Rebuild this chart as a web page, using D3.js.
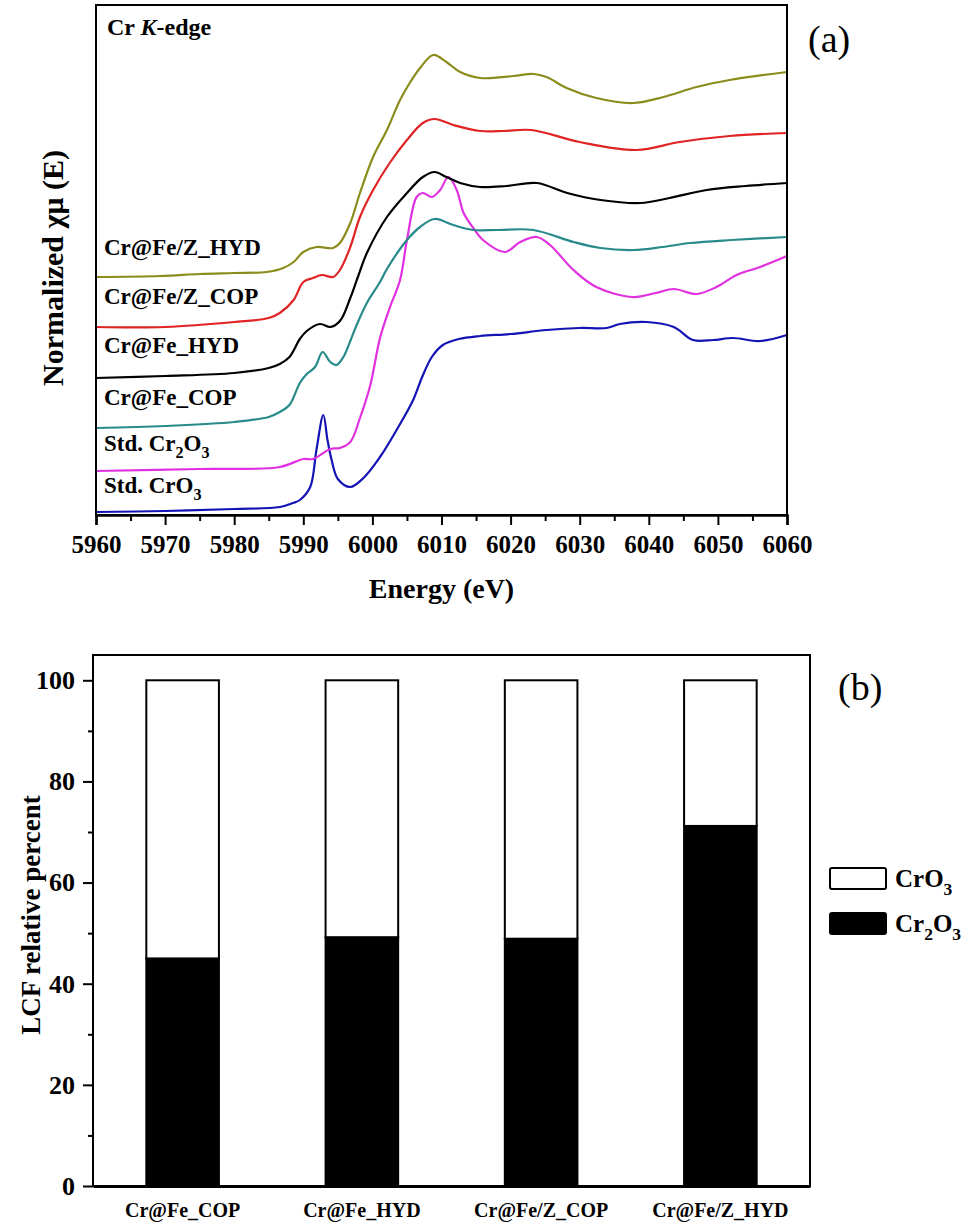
<!DOCTYPE html>
<html>
<head>
<meta charset="utf-8">
<script src="https://cdn.jsdelivr.net/npm/d3@7/dist/d3.min.js"></script>
<style>
body { margin: 0; background: #fff; }
text { font-family: "Liberation Serif", "Times New Roman", serif; font-weight: bold; fill: #000; }
</style>
</head>
<body>
<script>
// ---- panel (a): XANES spectra, energy (eV) vs normalized mu + offset ----
var energyTicks = [5960, 5970, 5980, 5990, 6000, 6010, 6020, 6030, 6040, 6050, 6060];

var stdCrO3 = [[5960,0.03],[5970,0.04],[5980,0.06],[5986.6,0.08],[5988.5,0.12],[5989.5,0.15],[5991,0.28],
    [5991.9,0.65],[5992.9,1.00],[5993.5,0.75],[5994.1,0.55],[5995,0.36],[5996.8,0.28],[5998.7,0.37],
    [6001.1,0.58],[6003.5,0.85],[6005.9,1.15],[6007.2,1.38],[6008.6,1.58],[6010.2,1.70],[6012.5,1.76],
    [6015.6,1.79],[6020,1.81],[6025.2,1.85],[6030,1.87],[6033.9,1.87],[6035.8,1.91],[6039.7,1.93],
    [6043.6,1.88],[6046.4,1.75],[6049.3,1.75],[6052.2,1.77],[6056.1,1.74],[6060,1.80]];

var stdCr2O3 = [[5960,0.44],[5975,0.46],[5986.6,0.48],[5990,0.56],[5991.4,0.56],[5993.9,0.66],
    [5995.3,0.67],[5996.8,0.73],[5998.2,0.97],[5999.7,1.30],[6001.1,1.77],[6002.5,2.07],[6004,2.35],
    [6005,2.75],[6006.4,3.18],[6007.3,3.22],[6008.6,3.18],[6009.8,3.25],[6011,3.38],[6012.2,3.25],
    [6013.2,3.02],[6014.6,2.87],[6016,2.75],[6019.2,2.63],[6021.4,2.73],[6023.8,2.78],[6025.7,2.70],
    [6029.1,2.45],[6032.4,2.28],[6037.7,2.18],[6041,2.22],[6043.6,2.26],[6046.9,2.21],[6049.8,2.28],
    [6052.7,2.40],[6056.1,2.48],[6060,2.59]];

var crFeCOP = [[5960,0.87],[5970,0.89],[5980,0.93],[5985,0.98],[5986.6,1.03],[5988,1.10],[5989.5,1.32],
    [5990.5,1.41],[5991.7,1.48],[5992.8,1.63],[5993.9,1.53],[5994.8,1.50],[5995.8,1.58],[5996.8,1.74],
    [5997.6,1.88],[5999.2,2.12],[6001.1,2.33],[6002.1,2.46],[6005,2.75],[6006.9,2.88],[6009,2.96],
    [6011.7,2.90],[6014.6,2.85],[6018,2.85],[6023.3,2.85],[6029.1,2.73],[6033,2.67],[6037.8,2.65],
    [6042,2.68],[6046,2.72],[6052,2.75],[6060,2.78]];

var crFeHYD = [[5960,1.37],[5970,1.39],[5980,1.42],[5985,1.47],[5986.6,1.51],[5988,1.58],[5989.5,1.76],
    [5990.5,1.84],[5992.4,1.91],[5993.9,1.88],[5995.3,1.94],[5996.8,2.17],[5998,2.40],[5999.2,2.62],
    [6002.1,2.98],[6005,3.22],[6007.3,3.38],[6009,3.43],[6010.7,3.38],[6012.7,3.32],[6015.6,3.28],
    [6019.4,3.29],[6023.8,3.32],[6028.2,3.22],[6033,3.15],[6038.8,3.12],[6043,3.17],[6048.4,3.25],
    [6054,3.29],[6060,3.32]];

var crFeZCOP = [[5960,1.88],[5970,1.88],[5980,1.93],[5985,1.97],[5986.6,2.02],[5988.6,2.15],[5990,2.33],
    [5991.4,2.37],[5992.7,2.40],[5994.3,2.38],[5995.3,2.45],[5996.8,2.68],[5998.2,2.98],[6000.1,3.25],
    [6002.5,3.52],[6005,3.75],[6007.3,3.92],[6009,3.96],[6011.7,3.90],[6015.6,3.84],[6019,3.84],
    [6023,3.85],[6030,3.73],[6038.2,3.65],[6044.5,3.73],[6051.7,3.79],[6060,3.82]];

var crFeZHYD = [[5960,2.38],[5969.3,2.39],[5975,2.41],[5979.9,2.42],[5984.7,2.43],[5987.1,2.47],
    [5988.6,2.53],[5990,2.63],[5991.9,2.68],[5994.3,2.67],[5995.3,2.72],[5996.8,2.92],[5998.2,3.22],
    [6000.1,3.58],[6002.1,3.85],[6004,4.15],[6005.4,4.32],[6006.9,4.47],[6008.8,4.60],[6010.7,4.53],
    [6012.7,4.43],[6015.6,4.37],[6020.4,4.39],[6023.3,4.41],[6025.2,4.38],[6028.1,4.27],[6032.4,4.17],
    [6037.7,4.12],[6042.1,4.18],[6046.9,4.28],[6051.7,4.35],[6060,4.43]];

var spectraNames = ["Std. CrO3", "Std. Cr2O3", "Cr@Fe_COP", "Cr@Fe_HYD", "Cr@Fe/Z_COP", "Cr@Fe/Z_HYD"];
var spectraData = [stdCrO3, stdCr2O3, crFeCOP, crFeHYD, crFeZCOP, crFeZHYD];

// ---- panel (b): linear combination fit ----
var samples = ["Cr@Fe_COP", "Cr@Fe_HYD", "Cr@Fe/Z_COP", "Cr@Fe/Z_HYD"];
var cr2o3Percent = [45.0, 49.2, 48.9, 71.2];
var cro3Percent = [55.0, 50.8, 51.1, 28.8];
var percentTicks = [0, 20, 40, 60, 80, 100];

// chem text: digits after a letter become subscripts
function chemText(sel, str, size){
    var shifted = false;
    str.split(/(?<=[A-Za-z])(\d+)/).forEach(function(p, i){
        if (p === "") return;
        if (i % 2 === 1){
            sel.append("tspan").attr("dy", size * 0.32).style("font-size", (size * 0.7) + "px").text(p);
            shifted = true;
        } else {
            sel.append("tspan").attr("dy", shifted ? -size * 0.32 : 0).text(p);
            shifted = false;
        }
    });
}

window.onload = function(){

    var w = 975, h = 1227;

    var svg = d3.select("body")
        .append("svg")
        .attr("width", w)
        .attr("height", h);

    // ===== panel (a) =====
    var ax = {left: 96, right: 787, top: 5, bottom: 515};
    var colors = ["#1414b4", "#e030e0", "#288a8a", "#000000", "#e02424", "#8c8c1c"];

    var x = d3.scaleLinear()
        .domain([5960, 6060])
        .range([ax.left, ax.right]);
    var y = d3.scaleLinear()
        .domain([0, 5.1])
        .range([ax.bottom, ax.top]);

    var line = d3.line()
        .x(function(d){ return x(d[0]); })
        .y(function(d){ return y(d[1]); })
        .curve(d3.curveCatmullRom.alpha(0.5));

    svg.selectAll(".spectrum")
        .data(spectraData)
        .enter()
        .append("path")
        .attr("class", "spectrum")
        .attr("d", line)
        .attr("fill", "none")
        .attr("stroke", function(d, i){ return colors[i]; })
        .attr("stroke-width", 2.2);

    // frame
    svg.append("rect")
        .attr("x", ax.left)
        .attr("y", ax.top)
        .attr("width", ax.right - ax.left)
        .attr("height", ax.bottom - ax.top)
        .attr("fill", "none")
        .attr("stroke", "#000")
        .attr("stroke-width", 2);

    // x axis, major + minor ticks
    var xAxis = svg.append("g")
        .attr("transform", "translate(0," + ax.bottom + ")")
        .call(d3.axisBottom(x).tickValues(energyTicks).tickSize(10).tickPadding(10).tickFormat(d3.format("d")));
    xAxis.select(".domain").attr("stroke-width", 2.5);
    xAxis.selectAll(".tick line").attr("stroke-width", 2);
    xAxis.selectAll("text").style("font-size", "25px").attr("fill", "#000");

    svg.append("g")
        .attr("transform", "translate(0," + ax.bottom + ")")
        .call(d3.axisBottom(x).tickValues(d3.range(5965, 6060, 10)).tickSize(6).tickFormat(""))
        .call(function(g){ g.select(".domain").remove(); })
        .selectAll(".tick line").attr("stroke-width", 2);

    svg.append("text")
        .attr("x", (ax.left + ax.right) / 2)
        .attr("y", 598)
        .attr("text-anchor", "middle")
        .style("font-size", "28px")
        .text("Energy (eV)");

    svg.append("text")
        .attr("transform", "translate(63," + 268 + ") rotate(-90)")
        .attr("text-anchor", "middle")
        .style("font-size", "30px")
        .text("Normalized χμ (E)");

    var kEdge = svg.append("text")
        .attr("x", 107)
        .attr("y", 35)
        .style("font-size", "24px");
    kEdge.append("tspan").text("Cr ");
    kEdge.append("tspan").style("font-style", "italic").text("K");
    kEdge.append("tspan").text("-edge");

    svg.append("text")
        .attr("x", 808)
        .attr("y", 52)
        .style("font-size", "38px")
        .style("font-weight", "normal")
        .text("(a)");

    // series labels, placed just above each baseline
    var labelLevels = [0.22, 0.64, 1.10, 1.62, 2.11, 2.60];
    spectraNames.forEach(function(name, i){
        var t = svg.append("text")
            .attr("x", 104)
            .attr("y", y(labelLevels[i]))
            .style("font-size", "23px");
        chemText(t, name, 23);
    });

    // ===== panel (b) =====
    var bx = {left: 93, right: 810, top: 655, bottom: 1186};

    var xb = d3.scaleBand()
        .domain(samples)
        .range([bx.left, bx.right])
        .paddingInner(0.595)
        .paddingOuter(0.2975);
    var yb = d3.scaleLinear()
        .domain([0, 105])
        .range([bx.bottom, bx.top]);

    var rows = samples.map(function(s, i){
        return {sample: s, Cr2O3: cr2o3Percent[i], CrO3: cro3Percent[i]};
    });
    var stack = d3.stack().keys(["Cr2O3", "CrO3"]);
    var layers = stack(rows);
    var fills = ["#000000", "#ffffff"];

    svg.selectAll(".layer")
        .data(layers)
        .enter()
        .append("g")
        .attr("class", "layer")
        .attr("fill", function(d, i){ return fills[i]; })
        .selectAll("rect")
        .data(function(d){ return d; })
        .enter()
        .append("rect")
        .attr("x", function(d){ return xb(d.data.sample); })
        .attr("y", function(d){ return yb(d[1]); })
        .attr("width", xb.bandwidth())
        .attr("height", function(d){ return yb(d[0]) - yb(d[1]); })
        .attr("stroke", "#000")
        .attr("stroke-width", 2);

    svg.append("rect")
        .attr("x", bx.left)
        .attr("y", bx.top)
        .attr("width", bx.right - bx.left)
        .attr("height", bx.bottom - bx.top)
        .attr("fill", "none")
        .attr("stroke", "#000")
        .attr("stroke-width", 2);

    var yAxisB = svg.append("g")
        .attr("transform", "translate(" + bx.left + ",0)")
        .call(d3.axisLeft(yb).tickValues(percentTicks).tickSize(10).tickPadding(8));
    yAxisB.select(".domain").remove();
    yAxisB.selectAll(".tick line").attr("stroke-width", 2);
    yAxisB.selectAll("text").style("font-size", "26px").attr("fill", "#000");

    svg.append("g")
        .attr("transform", "translate(" + bx.left + ",0)")
        .call(d3.axisLeft(yb).tickValues(d3.range(10, 100, 20)).tickSize(5).tickFormat(""))
        .call(function(g){ g.select(".domain").remove(); })
        .selectAll(".tick line").attr("stroke-width", 2);

    var xAxisB = svg.append("g")
        .attr("transform", "translate(0," + bx.bottom + ")")
        .call(d3.axisBottom(xb).tickSize(0).tickPadding(17));
    xAxisB.select(".domain").attr("stroke-width", 3);
    xAxisB.selectAll("text").style("font-size", "20px").attr("fill", "#000");

    svg.append("text")
        .attr("transform", "translate(40,915) rotate(-90)")
        .attr("text-anchor", "middle")
        .style("font-size", "27px")
        .text("LCF relative percent");

    svg.append("text")
        .attr("x", 838)
        .attr("y", 700)
        .style("font-size", "38px")
        .style("font-weight", "normal")
        .text("(b)");

    // legend
    var legendKeys = ["CrO3", "Cr2O3"];
    var legendFills = ["#ffffff", "#000000"];
    var legend = svg.selectAll(".legend")
        .data(legendKeys)
        .enter()
        .append("g")
        .attr("class", "legend")
        .attr("transform", function(d, i){ return "translate(830," + (868 + i * 45) + ")"; });
    legend.append("rect")
        .attr("width", 56)
        .attr("height", 21)
        .attr("rx", 2)
        .attr("fill", function(d, i){ return legendFills[i]; })
        .attr("stroke", "#000")
        .attr("stroke-width", 2);
    legend.append("text")
        .attr("x", 65)
        .attr("y", 19)
        .style("font-size", "25px")
        .each(function(d){ chemText(d3.select(this), d, 25); });
};
</script>
</body>
</html>
